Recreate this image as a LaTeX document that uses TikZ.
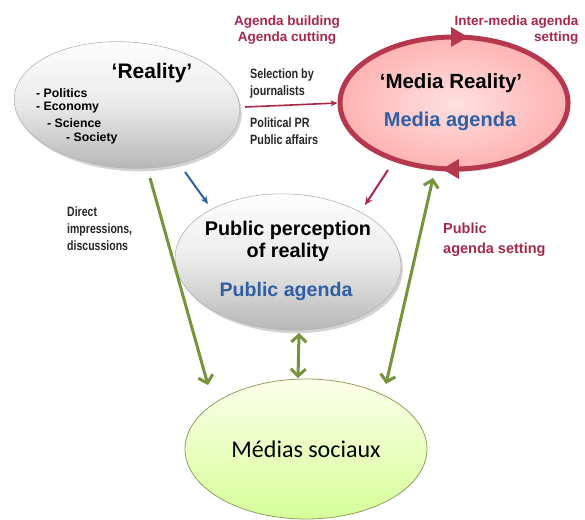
\documentclass[tikz,border=0pt]{standalone}
\usepackage{fontspec}
\setmainfont{Liberation Sans}
\newfontfamily\calfont{Carlito}
\usetikzlibrary{shapes.geometric,arrows.meta,shadows}
\definecolor{agred}{HTML}{A8284A}
\definecolor{ringred}{HTML}{B5384F}
\definecolor{agblue}{HTML}{2F5FA5}
\definecolor{olive}{HTML}{77933C}
\begin{document}
\begin{tikzpicture}[x=1pt,y=-1pt,
  grayell/.style={ellipse, top color=white, bottom color=black!28, middle color=black!8, draw=black!30, line width=0.6pt, drop shadow={shadow xshift=2pt,shadow yshift=-3pt,opacity=0.35}},
  redlbl/.style={text=agred, font=\bfseries\fontsize{13.5}{16}\selectfont, align=center},
  blk/.style={font=\bfseries\fontsize{12.3}{16}\selectfont, align=left, anchor=west, inner sep=0},
  narrow/.style={font=\bfseries\fontsize{13.5}{17}\selectfont, align=left, anchor=west, inner sep=0, text=black!85},
  garrow/.style={draw=olive, line width=3pt, {Straight Barb[length=7pt,width=15pt,line width=3pt]}-{Straight Barb[length=7pt,width=15pt,line width=3pt]}},
  garrowone/.style={draw=olive, line width=3pt, -{Straight Barb[length=7pt,width=15pt,line width=3pt]}}
]
\useasboundingbox (0,0) rectangle (585,519);

% Reality ellipse
\node[grayell, minimum width=226pt, minimum height=126pt, rotate=-4] (real) at (127,105) {};
\node[font=\bfseries\fontsize{21}{22}\selectfont] (realt) at (152,73) {`Reality'};
\node[blk] (l1) at (36,93) {- Politics};
\node[blk] (l2) at (36,108) {- Economy};
\node[blk] (l3) at (47,123) {- Science};
\node[blk] (l4) at (66,138) {- Society};

% Media reality ellipse
\node[ellipse, minimum width=228pt, minimum height=132pt, draw=ringred, line width=5pt,
      inner color=red!12!white, outer color=red!30!white,
      drop shadow={shadow xshift=2pt,shadow yshift=-3pt,opacity=0.3}] (media) at (454,103) {};
\fill[ringred] (468,37) -- (451,27) -- (451,47) -- cycle;
\fill[ringred] (442,169) -- (459,159) -- (459,179) -- cycle;
\node[font=\bfseries\fontsize{20.5}{22}\selectfont] (mrt) at (451,83) {`Media Reality'};
\node[font=\bfseries\fontsize{20}{22}\selectfont, text=agblue] (mat) at (450,121) {Media agenda};

% labels top
\node[redlbl] (build) at (287,30) {Agenda building\\Agenda cutting};
\node[redlbl, align=right, anchor=east] (inter) at (582,30) {Inter-media agenda\\setting};

% selection arrow
\node[narrow] (sel) at (250,84) {\scalebox{0.8}[1]{Selection by}\\\scalebox{0.8}[1]{journalists}};
\node[narrow] (ppr) at (250,131) {\scalebox{0.8}[1]{Political PR}\\\scalebox{0.8}[1]{Public affairs}};
\coordinate (selA) at (245,107);
\draw[agred, line width=1.6pt, -{Stealth[length=7pt,width=6pt]}] (selA) -- (media.west);

% public perception ellipse
\node[grayell, minimum width=226pt, minimum height=136pt, rotate=-3] (pub) at (288,262) {};
\node[font=\bfseries\fontsize{19.8}{22}\selectfont, align=center] (pubt) at (288,241) {Public perception\\of reality};
\node[font=\bfseries\fontsize{19.6}{22}\selectfont, text=agblue] (puba) at (286,291) {Public agenda};

\node[text=agred, font=\bfseries\fontsize{14.5}{20}\selectfont, align=left, anchor=west, inner sep=0] (pas) at (443,240) {Public\\agenda setting};
\node[narrow] (direct) at (67,229) {\scalebox{0.78}[1]{Direct}\\\scalebox{0.78}[1]{impressions,}\\\scalebox{0.78}[1]{discussions}};

% small arrows
\coordinate (bA) at (185,172);
\coordinate (bB) at (208,204);
\draw[agblue, line width=2pt, -{Stealth[length=8pt,width=7pt]}] (bA) -- (bB);
\coordinate (rA) at (388,170);
\coordinate (rB) at (365,205);
\draw[agred, line width=2pt, -{Stealth[length=8pt,width=7pt]}] (rA) -- (rB);

% Medias sociaux
\node[ellipse, minimum width=242pt, minimum height=140pt, draw=olive!85, line width=0.8pt,
      top color=green!10!yellow!8, bottom color=green!40!yellow!40!white] (soc) at (306,449) {\calfont\fontsize{24}{26}\selectfont Médias sociaux};

% green arrows
\coordinate (g1a) at (150,178);
\coordinate (g1b) at (208,385);
\draw[garrowone] (g1a) -- (g1b);
\coordinate (g2a) at (299,333);
\coordinate (g2b) at (298,378);
\draw[garrow] (g2a) -- (g2b);
\coordinate (g3a) at (386,384);
\coordinate (g3b) at (433,178);
\draw[garrow] (g3a) -- (g3b);
\end{tikzpicture}
\end{document}
